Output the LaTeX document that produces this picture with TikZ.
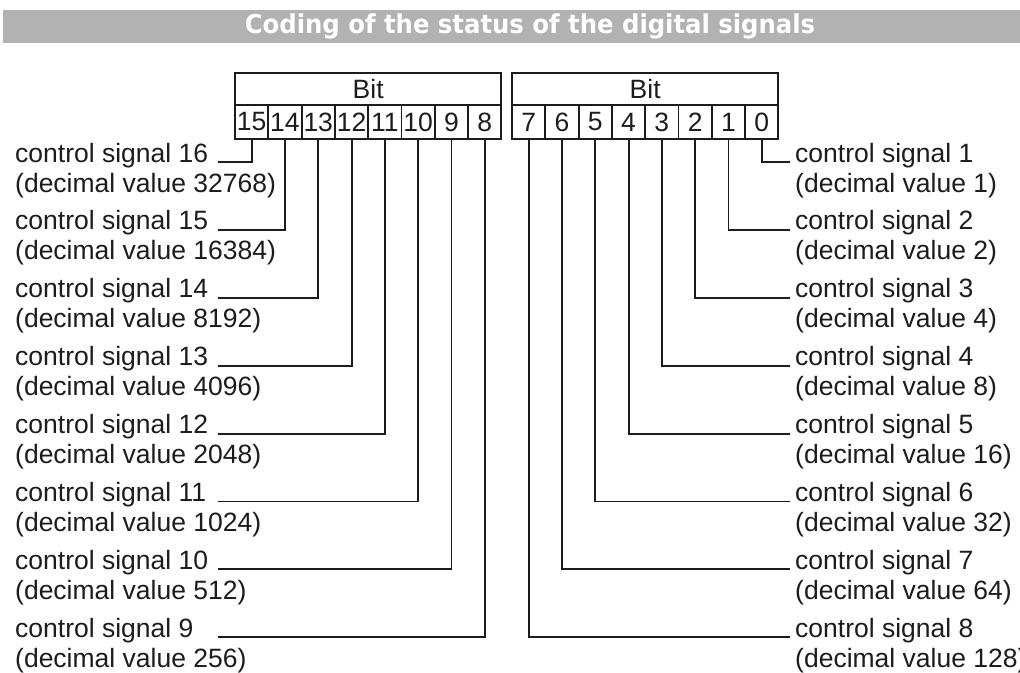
\documentclass[tikz,border=0pt]{standalone}
\usepackage{fontspec}
\setmainfont{Liberation Sans}
\newfontfamily\titlefont{DejaVu Sans Condensed}[FakeStretch=1.04]
\usetikzlibrary{positioning}
\definecolor{ink}{RGB}{30,27,28}
\definecolor{bargray}{RGB}{178,178,178}

\begin{document}
\begin{tikzpicture}[x=1pt,y=-1pt,node distance=33.3pt,on grid,
    every node/.style={text=ink,font=\fontsize{26.5}{30}\selectfont},
    cell/.style={draw=ink,line width=1.9pt,minimum width=33.3pt,minimum height=34pt,inner sep=0pt},
    hdr/.style={draw=ink,line width=1.9pt,minimum width=266.4pt,minimum height=32pt,inner sep=0pt},
    sig/.style={align=left,inner sep=0pt,anchor=base west},
    wire/.style={draw=ink,line width=1.9pt}]

        \useasboundingbox (0,0) rectangle (1020,672);

        % title bar
        \fill[bargray] (3,10) rectangle (1020,43);
        \node[text=white,font=\titlefont\bfseries\fontsize{26}{29}\selectfont] (title) at (530,26.5) {Coding of the status of the digital signals};

        % upper byte
        \node[hdr] (hdrH) at (368.2,89) {Bit};
        \node[cell] (b15) at (251.65,122) {15};
        \node[cell] (b14) [right=of b15] {14};
        \node[cell] (b13) [right=of b14] {13};
        \node[cell] (b12) [right=of b13] {12};
        \node[cell] (b11) [right=of b12] {11};
        \node[cell] (b10) [right=of b11] {10};
        \node[cell] (b9)  [right=of b10] {9};
        \node[cell] (b8)  [right=of b9]  {8};

        % lower byte
        \node[hdr] (hdrL) at (645.2,89) {Bit};
        \node[cell] (b7) at (528.65,122) {7};
        \node[cell] (b6) [right=of b7] {6};
        \node[cell] (b5) [right=of b6] {5};
        \node[cell] (b4) [right=of b5] {4};
        \node[cell] (b3) [right=of b4] {3};
        \node[cell] (b2) [right=of b3] {2};
        \node[cell] (b1) [right=of b2] {1};
        \node[cell] (b0) [right=of b1] {0};

        % left labels (base = second line)
        \node[sig] (s16) at (15,192)   {control signal 16\\(decimal value 32768)};
        \node[sig] (s15) at (15,259.9) {control signal 15\\(decimal value 16384)};
        \node[sig] (s14) at (15,327.8) {control signal 14\\(decimal value 8192)};
        \node[sig] (s13) at (15,395.7) {control signal 13\\(decimal value 4096)};
        \node[sig] (s12) at (15,463.6) {control signal 12\\(decimal value 2048)};
        \node[sig] (s11) at (15,531.5) {control signal 11\\(decimal value 1024)};
        \node[sig] (s10) at (15,599.4) {control signal 10\\(decimal value 512)};
        \node[sig] (s9)  at (15,667.3) {control signal 9\\(decimal value 256)};

        % right labels
        \node[sig] (s1) at (795,192)   {control signal 1\\(decimal value 1)};
        \node[sig] (s2) at (795,259.9) {control signal 2\\(decimal value 2)};
        \node[sig] (s3) at (795,327.8) {control signal 3\\(decimal value 4)};
        \node[sig] (s4) at (795,395.7) {control signal 4\\(decimal value 8)};
        \node[sig] (s5) at (795,463.6) {control signal 5\\(decimal value 16)};
        \node[sig] (s6) at (795,531.5) {control signal 6\\(decimal value 32)};
        \node[sig] (s7) at (795,599.4) {control signal 7\\(decimal value 64)};
        \node[sig] (s8) at (795,667.3) {control signal 8\\(decimal value 128)};

        % wire ends
        \coordinate (w16) at (218,162);
        \coordinate (w15) at (218,229.9);
        \coordinate (w14) at (218,297.8);
        \coordinate (w13) at (218,365.7);
        \coordinate (w12) at (218,433.6);
        \coordinate (w11) at (218,501.5);
        \coordinate (w10) at (218,569.4);
        \coordinate (w9)  at (218,637.3);
        \coordinate (w1) at (790,162);
        \coordinate (w2) at (790,229.9);
        \coordinate (w3) at (790,297.8);
        \coordinate (w4) at (790,365.7);
        \coordinate (w5) at (790,433.6);
        \coordinate (w6) at (790,501.5);
        \coordinate (w7) at (790,569.4);
        \coordinate (w8) at (790,637.3);

        \path[wire] (b15.south) |- (w16)
        (b14.south) |- (w15)
        (b13.south) |- (w14)
        (b12.south) |- (w13)
        (b11.south) |- (w12)
        (b10.south) |- (w11)
        (b9.south)  |- (w10)
        (b8.south)  |- (w9)
        (b0.south)  |- (w1)
        (b1.south)  |- (w2)
        (b2.south)  |- (w3)
        (b3.south)  |- (w4)
        (b4.south)  |- (w5)
        (b5.south)  |- (w6)
        (b6.south)  |- (w7)
        (b7.south)  |- (w8)
        ;
    \end{tikzpicture}
\end{document}
